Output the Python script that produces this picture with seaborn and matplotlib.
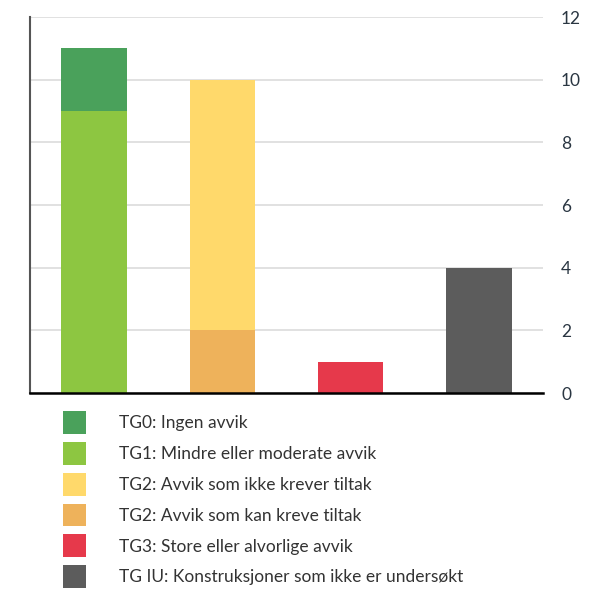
import matplotlib
matplotlib.use('Agg')
import matplotlib.pyplot as plt
import seaborn as sns
import pandas as pd
from matplotlib.patches import Patch

# grade groups shown as bars (no x labels in the original)
groups = ['TG0/TG1', 'TG2', 'TG3', 'TG IU']
totals = [11, 10, 1, 4]      # top of each stack
lower = [9, 2, 0, 0]         # lower segment of each stack

top_colors = ['#4aa15b', '#ffd96b', '#e6394b', '#5c5c5c']
low_colors = ['#8dc641', '#eeb25b', '#e6394b', '#5c5c5c']

legend_labels = [
  'TG0: Ingen avvik',
  'TG1: Mindre eller moderate avvik',
  'TG2: Avvik som ikke krever tiltak',
  'TG2: Avvik som kan kreve tiltak',
  'TG3: Store eller alvorlige avvik',
  'TG IU: Konstruksjoner som ikke er undersøkt',
]
legend_colors = ['#4aa15b', '#8dc641', '#ffd96b', '#eeb25b', '#e6394b', '#5c5c5c']
yticks = [0, 2, 4, 6, 8, 10, 12]


def main():
  sns.set_style('white')
  plt.rcParams['font.family'] = ['Lato', 'DejaVu Sans']

  df = pd.DataFrame({'group': groups, 'total': totals, 'lower': lower})

  fig = plt.figure(figsize=(5.94, 5.92), dpi=100)
  ax = fig.add_axes([30/594, 1 - 393/592, 513/594, 376/592])

  sns.barplot(data=df, x='group', y='total', hue='group', palette=top_colors,
              saturation=1, width=0.51, linewidth=0, legend=False, ax=ax, zorder=3)
  sns.barplot(data=df, x='group', y='lower', hue='group', palette=low_colors,
              saturation=1, width=0.51, linewidth=0, legend=False, ax=ax, zorder=4)

  ax.set_ylim(0, 12)
  ax.set_xlim(-0.5, 3.5)
  ax.set_yticks(yticks)
  ax.yaxis.tick_right()
  ax.tick_params(axis='y', length=0, pad=13, labelsize=12.5, labelcolor='#2a3642')
  for lab in ax.get_yticklabels():
    lab.set_horizontalalignment('left')
  ax.set_xticks([])
  ax.set_xlabel('')
  ax.set_ylabel('')
  ax.grid(axis='y', color='#d9d9d9', linewidth=1.1, zorder=0)
  ax.set_axisbelow(True)

  for s in ['top', 'right']:
    ax.spines[s].set_visible(False)
  ax.spines['left'].set_color('#555555')
  ax.spines['left'].set_linewidth(1.5)
  ax.spines['bottom'].set_color('#000000')
  ax.spines['bottom'].set_linewidth(1.8)
  ax.spines['bottom'].set_zorder(5)

  handles = [Patch(facecolor=c, edgecolor='none') for c in legend_colors]
  fig.legend(handles, legend_labels, loc='upper left',
             bbox_to_anchor=(63/594, 1 - 411/592), frameon=False,
             borderpad=0, borderaxespad=0, fontsize=12.5,
             handlelength=1.32, handleheight=1.65, handletextpad=1.9,
             labelspacing=0.46, labelcolor='#333333')

  plt.savefig('out.png', dpi=100)


if __name__ == "__main__":
  main()
